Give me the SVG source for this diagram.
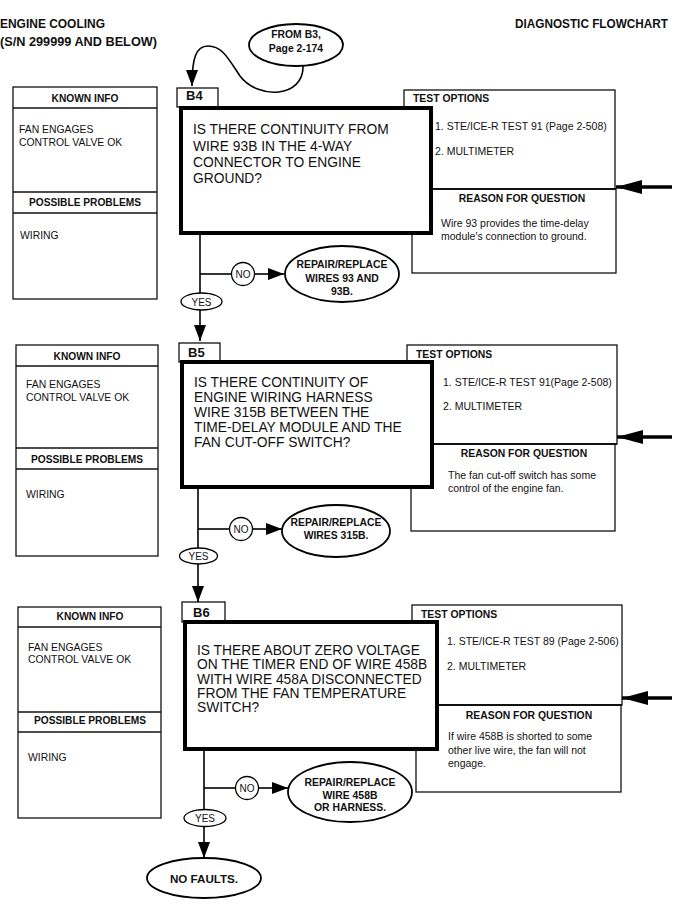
<svg xmlns="http://www.w3.org/2000/svg" width="681" height="910" viewBox="0 0 681 910">
<style>
text{font-family:"Liberation Sans",Arial,sans-serif;fill:#111}
.hdr{font-size:12px;font-weight:bold}
.kh{font-size:10.2px;font-weight:bold;text-anchor:middle}
.kt{font-size:10.4px}
.lbl{font-size:13px;font-weight:bold}
.qt{font-size:13.8px}
.th{font-size:10.4px;font-weight:bold}
.tt{font-size:10.5px}
.rh{font-size:10.4px;font-weight:bold;text-anchor:middle}
.rt{font-size:10.5px}
.et{font-size:10.4px;font-weight:bold;text-anchor:middle}
.yn{font-size:10px;text-anchor:middle}
.box{fill:#fff;stroke:#111;stroke-width:1.3}
.div{stroke:#111;stroke-width:2}
.q{fill:#fff;stroke:#000;stroke-width:4}
.ell{fill:#fff;stroke:#000;stroke-width:1.8}
.sm{fill:#fff;stroke:#000;stroke-width:1.3}
.flow{fill:none;stroke:#000;stroke-width:1.6}
.big{fill:none;stroke:#000;stroke-width:3.5}
</style>
<defs>
<marker id="ah" markerUnits="userSpaceOnUse" markerWidth="16" markerHeight="12" refX="16" refY="6" orient="auto">
<path d="M0,0 L16,6 L0,12 z" fill="#000"/>
</marker>
<marker id="bah" markerUnits="userSpaceOnUse" markerWidth="26" markerHeight="14" refX="26" refY="7" orient="auto">
<path d="M0,0 L26,7 L0,14 z" fill="#000"/>
</marker>
</defs>

<g id="header">
<text class="hdr" x="0" y="28" textLength="105" lengthAdjust="spacingAndGlyphs">ENGINE COOLING</text>
<text class="hdr" x="0" y="46" textLength="157" lengthAdjust="spacingAndGlyphs">(S/N 299999 AND BELOW)</text>
<text class="hdr" x="515" y="28" textLength="153" lengthAdjust="spacingAndGlyphs">DIAGNOSTIC FLOWCHART</text>
</g>

<g id="from-b3">
<ellipse class="ell" cx="296" cy="45" rx="47" ry="21"/>
<text class="et" x="296" y="38">FROM B3,</text>
<text class="et" x="296" y="52">Page 2-174</text>
</g>

<!-- B4 -->
<g id="b4-known">
<rect class="box" x="13" y="87" width="144" height="212"/>
<line class="box" x1="13" y1="108" x2="157" y2="108"/>
<line class="box" x1="13" y1="192" x2="157" y2="192"/>
<line class="box" x1="13" y1="213" x2="157" y2="213"/>
<text class="kh" x="85" y="102">KNOWN INFO</text>
<text class="kt" x="19" y="133">FAN ENGAGES</text>
<text class="kt" x="19" y="146">CONTROL VALVE OK</text>
<text class="kh" x="85" y="206">POSSIBLE PROBLEMS</text>
<text class="kt" x="20" y="239">WIRING</text>
</g>
<g id="b4-test">
<rect class="box" x="404" y="90" width="211" height="99"/>
<text class="th" x="413" y="102">TEST OPTIONS</text>
<text class="tt" x="435" y="130">1. STE/ICE-R TEST 91 (Page 2-508)</text>
<text class="tt" x="435" y="155">2. MULTIMETER</text>
</g>
<g id="b4-reason">
<rect class="box" x="412" y="189" width="204" height="84"/>
<line class="div" x1="412" y1="189" x2="616" y2="189"/>
<text class="rh" x="522" y="202">REASON FOR QUESTION</text>
<text class="rt" x="441" y="227">Wire 93 provides the time-delay</text>
<text class="rt" x="441" y="240">module's connection to ground.</text>
</g>
<g id="b4-label">
<rect class="box" x="177" y="88" width="41" height="19"/>
<text class="lbl" x="186" y="100">B4</text>
</g>
<g id="b4-question">
<rect class="q" x="181" y="108" width="250" height="125"/>
<text class="qt" x="193" y="134">IS THERE CONTINUITY FROM</text>
<text class="qt" x="193" y="151">WIRE 93B IN THE 4-WAY</text>
<text class="qt" x="193" y="167">CONNECTOR TO ENGINE</text>
<text class="qt" x="193" y="183">GROUND?</text>
</g>
<g id="b4-no">
<circle class="sm" cx="243" cy="274" r="11.5"/>
<text class="yn" x="243" y="278">NO</text>
</g>
<g id="b4-repair">
<ellipse class="ell" cx="342" cy="274" rx="57" ry="28"/>
<text class="et" x="342" y="268">REPAIR/REPLACE</text>
<text class="et" x="342" y="281.5">WIRES 93 AND</text>
<text class="et" x="342" y="294.5">93B.</text>
</g>
<g id="b4-yes">
<ellipse class="sm" cx="201.5" cy="301.5" rx="20.5" ry="8.5"/>
<text class="yn" x="201.5" y="305.5">YES</text>
</g>

<!-- B5 -->
<g id="b5-known">
<rect class="box" x="16" y="345" width="142" height="211"/>
<line class="box" x1="16" y1="366" x2="158" y2="366"/>
<line class="box" x1="16" y1="448" x2="158" y2="448"/>
<line class="box" x1="16" y1="469" x2="158" y2="469"/>
<text class="kh" x="87" y="360">KNOWN INFO</text>
<text class="kt" x="26" y="388">FAN ENGAGES</text>
<text class="kt" x="26" y="401">CONTROL VALVE OK</text>
<text class="kh" x="87" y="463">POSSIBLE PROBLEMS</text>
<text class="kt" x="26" y="498">WIRING</text>
</g>
<g id="b5-test">
<rect class="box" x="407" y="345" width="210" height="99"/>
<text class="th" x="416" y="358">TEST OPTIONS</text>
<text class="tt" x="443" y="386">1. STE/ICE-R TEST 91(Page 2-508)</text>
<text class="tt" x="443" y="410">2. MULTIMETER</text>
</g>
<g id="b5-reason">
<rect class="box" x="411" y="444" width="204" height="87"/>
<line class="div" x1="411" y1="444" x2="617" y2="444"/>
<text class="rh" x="524" y="457">REASON FOR QUESTION</text>
<text class="rt" x="448" y="479">The fan cut-off switch has some</text>
<text class="rt" x="448" y="492">control of the engine fan.</text>
</g>
<g id="b5-label">
<rect class="box" x="179" y="343" width="41" height="19"/>
<text class="lbl" x="188" y="357">B5</text>
</g>
<g id="b5-question">
<rect class="q" x="182" y="362" width="250" height="125"/>
<text class="qt" x="194" y="387">IS THERE CONTINUITY OF</text>
<text class="qt" x="194" y="402">ENGINE WIRING HARNESS</text>
<text class="qt" x="194" y="417">WIRE 315B BETWEEN THE</text>
<text class="qt" x="194" y="432">TIME-DELAY MODULE AND THE</text>
<text class="qt" x="194" y="447">FAN CUT-OFF SWITCH?</text>
</g>
<g id="b5-no">
<circle class="sm" cx="241" cy="529" r="11.5"/>
<text class="yn" x="241" y="533">NO</text>
</g>
<g id="b5-repair">
<ellipse class="ell" cx="336" cy="531" rx="54" ry="26"/>
<text class="et" x="336" y="526">REPAIR/REPLACE</text>
<text class="et" x="336" y="539">WIRES 315B.</text>
</g>
<g id="b5-yes">
<ellipse class="sm" cx="198.5" cy="556" rx="19" ry="8"/>
<text class="yn" x="198.5" y="560">YES</text>
</g>

<!-- B6 -->
<g id="b6-known">
<rect class="box" x="18" y="607" width="143" height="211"/>
<line class="box" x1="18" y1="627" x2="161" y2="627"/>
<line class="box" x1="18" y1="712" x2="161" y2="712"/>
<line class="box" x1="18" y1="732" x2="161" y2="732"/>
<text class="kh" x="90" y="620">KNOWN INFO</text>
<text class="kt" x="28" y="651">FAN ENGAGES</text>
<text class="kt" x="28" y="663">CONTROL VALVE OK</text>
<text class="kh" x="90" y="724">POSSIBLE PROBLEMS</text>
<text class="kt" x="28" y="761">WIRING</text>
</g>
<g id="b6-test">
<rect class="box" x="412" y="605" width="210" height="100"/>
<text class="th" x="421" y="618">TEST OPTIONS</text>
<text class="tt" x="447" y="645">1. STE/ICE-R TEST 89 (Page 2-506)</text>
<text class="tt" x="447" y="670">2. MULTIMETER</text>
</g>
<g id="b6-reason">
<rect class="box" x="416" y="705" width="205" height="87"/>
<line class="div" x1="416" y1="705" x2="622" y2="705"/>
<text class="rh" x="529" y="719">REASON FOR QUESTION</text>
<text class="rt" x="448" y="740">If wire 458B is shorted to some</text>
<text class="rt" x="448" y="754">other live wire, the fan will not</text>
<text class="rt" x="448" y="767">engage.</text>
</g>
<g id="b6-label">
<rect class="box" x="182" y="602" width="43" height="20"/>
<text class="lbl" x="193" y="617">B6</text>
</g>
<g id="b6-question">
<rect class="q" x="185" y="622" width="252" height="127"/>
<text class="qt" x="197" y="655">IS THERE ABOUT ZERO VOLTAGE</text>
<text class="qt" x="197" y="669">ON THE TIMER END OF WIRE 458B</text>
<text class="qt" x="197" y="684">WITH WIRE 458A DISCONNECTED</text>
<text class="qt" x="197" y="698">FROM THE FAN TEMPERATURE</text>
<text class="qt" x="197" y="712">SWITCH?</text>
</g>
<g id="b6-no">
<circle class="sm" cx="247" cy="788" r="11.5"/>
<text class="yn" x="247" y="792">NO</text>
</g>
<g id="b6-repair">
<ellipse class="ell" cx="350" cy="792" rx="62" ry="30"/>
<text class="et" x="350" y="786">REPAIR/REPLACE</text>
<text class="et" x="350" y="798.5">WIRE 458B</text>
<text class="et" x="350" y="811">OR HARNESS.</text>
</g>
<g id="b6-yes">
<ellipse class="sm" cx="205" cy="818" rx="21" ry="8.5"/>
<text class="yn" x="205" y="822">YES</text>
</g>
<g id="no-faults">
<ellipse class="ell" cx="204" cy="878" rx="57" ry="20"/>
<text x="204" y="882.5" style="font-size:11.6px;font-weight:bold;text-anchor:middle">NO FAULTS.</text>
</g>

<g id="connectors">
<path class="flow" d="M303,66 C304,98 258,100 240,76 C228,58 222,46 208,46 C196,46 192,58 192,86" marker-end="url(#ah)"/>
<line class="flow" x1="200" y1="235" x2="200" y2="293"/>
<line class="flow" x1="200" y1="274" x2="231.5" y2="274"/>
<line class="flow" x1="254.5" y1="274" x2="284" y2="274" marker-end="url(#ah)"/>
<line class="flow" x1="200" y1="310" x2="200" y2="341" marker-end="url(#ah)"/>
<line class="big" x1="672" y1="187" x2="616" y2="187" marker-end="url(#bah)"/>

<line class="flow" x1="198" y1="489" x2="198" y2="548"/>
<line class="flow" x1="198" y1="529" x2="229.5" y2="529"/>
<line class="flow" x1="252.5" y1="529" x2="282" y2="529" marker-end="url(#ah)"/>
<line class="flow" x1="198" y1="564" x2="198" y2="602" marker-end="url(#ah)"/>
<line class="big" x1="672" y1="437" x2="617" y2="437" marker-end="url(#bah)"/>

<line class="flow" x1="204" y1="751" x2="204" y2="809.5"/>
<line class="flow" x1="204" y1="788" x2="235.5" y2="788"/>
<line class="flow" x1="258.5" y1="788" x2="288" y2="788" marker-end="url(#ah)"/>
<line class="flow" x1="204" y1="826.5" x2="204" y2="858" marker-end="url(#ah)"/>
<line class="big" x1="672" y1="698" x2="622" y2="698" marker-end="url(#bah)"/>
</g>
</svg>
